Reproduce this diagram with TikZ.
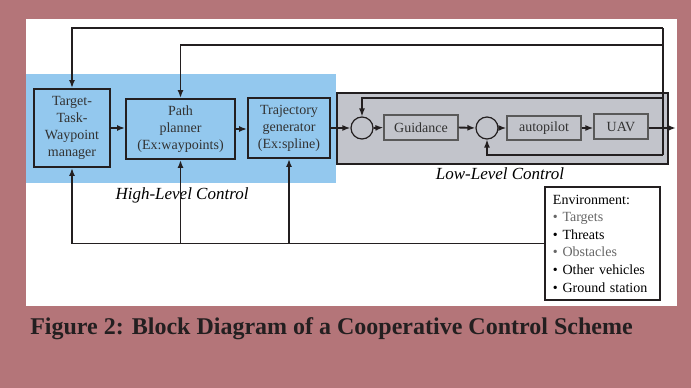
\documentclass[tikz,border=0pt]{standalone}
\usepackage{fontspec}
\setmainfont{Liberation Serif}
\usetikzlibrary{arrows.meta}
\definecolor{bgmauve}{RGB}{180,117,121}
\definecolor{hlblue}{RGB}{147,200,238}
\definecolor{llgray}{RGB}{194,196,203}
\definecolor{inkdark}{RGB}{35,31,32}
\definecolor{txtgray}{RGB}{50,50,50}

\begin{document}
\begin{tikzpicture}[x=1pt,y=-1pt,
	line width=1.9pt, draw=inkdark,
	>={Latex[length=8pt,width=6pt]},
	blk/.style={draw=inkdark, line width=1.9pt, align=center, inner sep=1pt, text=txtgray, font=\fontsize{14}{17}\selectfont},
	llblk/.style={draw=black!65, line width=1.2pt, fill=llgray, inner sep=1pt, text=txtgray, font=\fontsize{14}{17}\selectfont},
	sumc/.style={draw=inkdark, line width=1.2pt, circle, minimum size=22pt, inner sep=0pt}]
	\useasboundingbox (0,0) rectangle (691,388);
	% background and the two control regions
	\fill [bgmauve] (0,0) rectangle (691,388);
	\fill [white] (26,19) rectangle (677,306);
	\fill [hlblue] (26,74) rectangle (336,183);
	\draw [line width=2pt, fill=llgray] (337,93) rectangle (668,164);
	% high level blocks
	\node [blk, minimum width=76, minimum height=78] (tgt) at (72,128) {Target-\\Task-\\Waypoint\\manager};
	\node [blk, minimum width=109, minimum height=60] (path) at (180.5,129) {Path\\planner\\(Ex:waypoints)};
	\node [blk, minimum width=82, minimum height=60] (traj) at (289,128) {Trajectory\\generator\\(Ex:spline)};
	% low level blocks
	\node [sumc] (sum1) at (362,128) {};
	\node [llblk, minimum width=74, minimum height=25] (guid) at (421,127.5) {Guidance};
	\node [sumc] (sum2) at (487,128) {};
	\node [llblk, minimum width=74, minimum height=24] (auto) at (544,128) {autopilot};
	\node [llblk, minimum width=54, minimum height=25] (uav) at (621,126.5) {UAV};
	% environment
	\node [draw=inkdark, line width=1.9pt, anchor=north west, align=left, text width=99, minimum height=113, inner xsep=8, inner ysep=4, font=\fontsize{14}{17.6}\selectfont] (env) at (544,186)
		{Environment:\\\textcolor{black!60}{\textbullet{} Targets}\\\textbullet{} Threats\\\textcolor{black!60}{\textbullet{} Obstacles}\\\textbullet{} Other vehicles\\\textbullet{} Ground station};
	% labels
	\node [font=\fontsize{17}{20}\itshape] (hlc) at (182,195) {High-Level Control};
	\node [font=\fontsize{17}{20}\itshape] (llc) at (500,174) {Low-Level Control};
	\node [anchor=base west, text=inkdark, font=\fontsize{24}{28}\bfseries] (cap) at (26,334) {Figure 2: Block Diagram of a Cooperative Control Scheme};
	% forward path
	\coordinate (tap) at (663,128);
	\coordinate (out) at (676,128);
	\draw [->] (tgt.east) -- (tgt.east -| path.west);
	\draw [->] (path.east) -- (path.east -| traj.west);
	\draw [->] (traj.east) -- (sum1.west);
	\draw [->] (sum1.east) -- (guid.west);
	\draw [->] (guid.east) -- (sum2.west);
	\draw [->] (sum2.east) -- (auto.west);
	\draw [->] (auto.east) -- (auto.east -| uav.west);
	\draw [->] (uav.east |- tap) -- (out);
	% feedback loops
	\coordinate (top1) at (663,28);
	\coordinate (top2) at (663,45);
	\coordinate (fb1) at (663,98);
	\coordinate (fb2) at (663,155);
	\draw (top1) -- (fb2);
	\draw [->] (top1) -| (tgt.north);
	\draw [->] (top2) -| (path.north);
	\draw [->, line width=1.3pt] (fb1) -| (sum1.north);
	\draw [->, line width=1.3pt] (fb2) -| (sum2.south);
	\draw [->] (env.west) -| (tgt.south);
	\draw [->] (path.south |- env.west) -- (path.south);
	\draw [->] (traj.south |- env.west) -- (traj.south);
\end{tikzpicture}
\end{document}
